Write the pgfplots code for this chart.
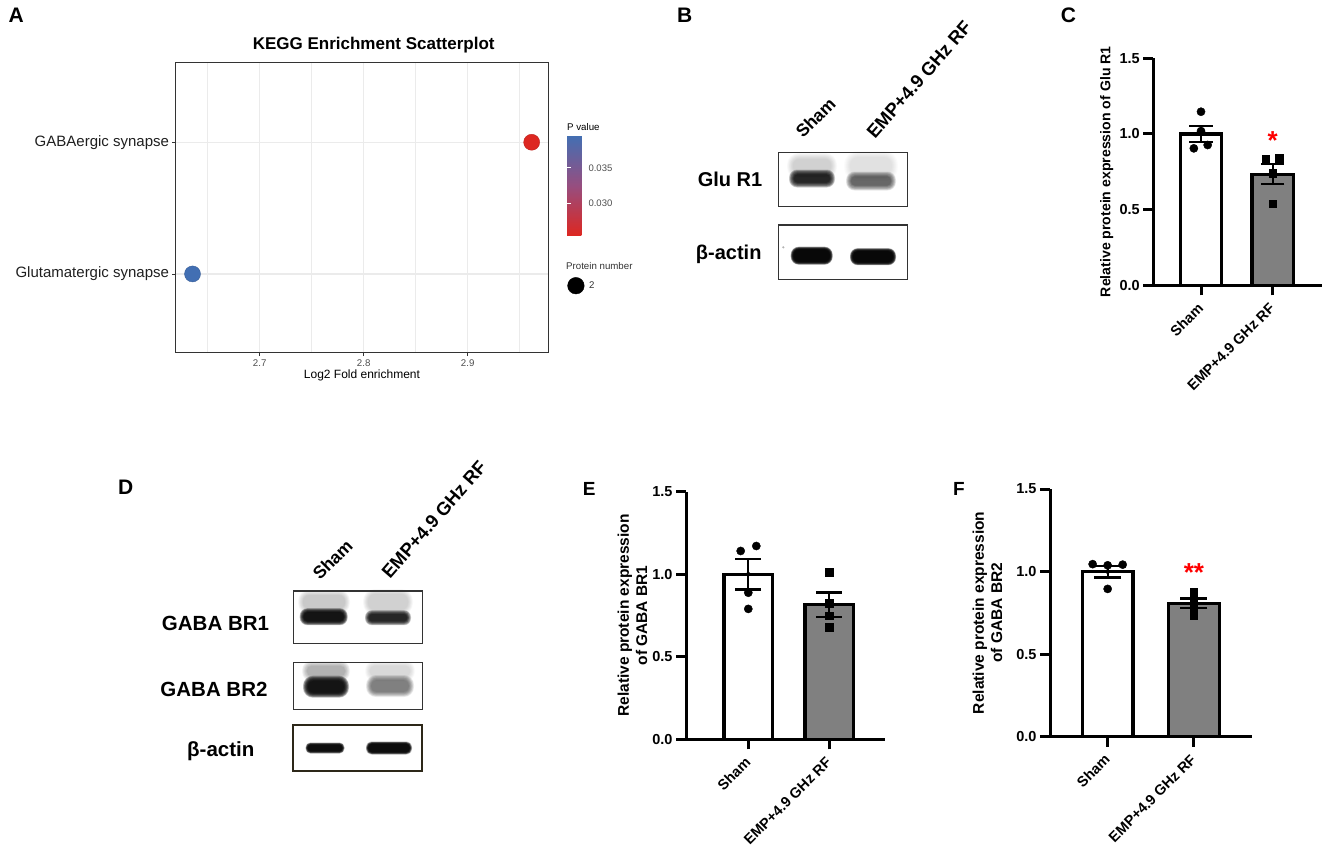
\documentclass[border=0pt]{standalone}
\usepackage{fontspec}
\setmainfont{Liberation Sans}
\usepackage{pgfplots}
\pgfplotsset{compat=1.18}
\definecolor{gthirty}{RGB}{77,77,77}
\definecolor{gtwenty}{RGB}{51,51,51}
\definecolor{gridc}{RGB}{235,235,235}
\definecolor{barg}{RGB}{128,128,128}
\definecolor{blotframe}{RGB}{45,40,25}
\definecolor{sigred}{RGB}{255,0,0}
\newcommand{\fs}[1]{\fontsize{#1}{#1}\selectfont}
\newcommand{\band}[6]{%
  \pgfmathsetmacro{\al}{1-(1-#5)^(0.1)}%
  \foreach \k in {0,...,9}{%
    \pgfmathsetmacro{\W}{#3/2+#6*(1-\k/9)}%
    \pgfmathsetmacro{\H}{#4/2+#6*(1-\k/9)}%
    \pgfmathsetmacro{\R}{0.9*\H}%
    \fill[black, opacity=\al, rounded corners=\R pt] ({#1-\W},{#2-\H}) rectangle ({#1+\W},{#2+\H});
  }}
\pgfplotsset{
  gp/.style={
    scale only axis,
    axis x line=bottom, axis y line=left,
    axis line style={line width=3pt, -, black},
    tick align=outside, major tick length=10pt,
    tick style={line width=3pt, black},
    ymin=0, ymax=1.5, ytick={0,0.5,1,1.5},
    xtick={0,1}, xticklabels={Sham, EMP+4.9 GHz RF},
    ticklabel style={font=\fs{14.5}\bfseries},
    /pgf/number format/assume math mode=true,
    yticklabel style={/pgf/number format/.cd, fixed, fixed zerofill, precision=1},
    xticklabel style={yshift=-8pt, xshift=2pt, rotate=45, anchor=east},
    clip=false,
  }}
\begin{document}
\begin{tikzpicture}
\useasboundingbox (0,0) rectangle (1325pt,-856pt);

% ---------------- Panel A ----------------
\begin{axis}[
  at={(176pt,-352.7pt)}, anchor=south west, scale only axis,
  width=372pt, height=290pt,
  xmin=2.6195, xmax=2.9772, ymin=0.402, ymax=2.604,
  xtick={2.7,2.8,2.9}, minor xtick={2.65,2.75,2.85,2.95},
  ytick={1,2}, yticklabels={Glutamatergic synapse, GABAergic synapse},
  /pgf/number format/assume math mode=true,
  xticklabel style={font=\fs{9.7}, text=gthirty, /pgf/number format/.cd, fixed, precision=1},
  yticklabel style={font=\fs{15}, text=black!88},
  grid=both, major grid style={gridc, line width=1.2pt}, minor grid style={gridc, line width=0.7pt},
  axis line style={gtwenty, line width=1pt},
  tick align=outside, tick pos=left, major tick length=3.5pt, minor tick length=0pt,
  tick style={gtwenty, line width=0.8pt},
  xlabel={Log2 Fold enrichment},
  xlabel style={font=\fs{12}, at={(axis description cs:0.5,-0.077)}, anchor=center},
  colorbar,
  colormap={pv}{rgb255=(221,39,33) rgb255=(150,78,128) rgb255=(66,111,179)},
  point meta min=0.02547, point meta max=0.0396,
  colorbar style={
    at={(parent axis.north east)}, anchor=north west,
    xshift=10.5pt, yshift=-72.6pt,
    scale only axis, width=18pt, height=100pt,
    axis line style={draw=none},
    ytick={0.030,0.035}, scaled y ticks=false,
    /pgf/number format/assume math mode=true,
    yticklabel style={font=\fs{9.5}, text=gthirty, /pgf/number format/.cd, fixed, fixed zerofill, precision=3},
    tick align=inside, major tick length=3.5pt, ytick style={white, line width=0.8pt},
    ytick pos=both, yticklabel pos=right,
    title={P value}, title style={font=\fs{9.7}, at={(0,1)}, anchor=south west, inner sep=0pt, yshift=-1pt},
  },
  legend style={at={(1.0522,0.231)}, anchor=west, draw=none, fill=none, inner sep=0pt,
    font=\fs{9.7}, text=gtwenty, column sep=3pt},
]
\addplot[scatter, only marks, mark=*, mark size=8pt, point meta=explicit,
  scatter/use mapped color={draw=mapped color!85!black, fill=mapped color}, forget plot]
  coordinates {(2.9615,2) [0.02547] (2.6354,1) [0.0396]};
\addlegendimage{only marks, mark=*, mark size=8.3pt, black}
\addlegendentry{2}
\end{axis}

% ---------------- Panel C ----------------
\begin{axis}[gp, at={(1153.3pt,-285.3pt)}, anchor=south west, width=168.4pt, height=227pt,
  xmin=-0.665, xmax=1.683,
  ylabel={Relative protein expression of Glu R1},
  ylabel style={at={(axis description cs:-0.277,0.5)}, anchor=center, font=\fs{14.1}\bfseries}]
\addplot[ybar, bar width=0.58, bar shift=0pt, fill=white, draw=black, line width=3.3pt] coordinates {(0,1.0)};
\addplot[ybar, bar width=0.58, bar shift=0pt, fill=barg, draw=black, line width=3.3pt] coordinates {(1,0.734)};
\addplot[black, only marks, mark=none, error bars/.cd, y dir=both, y explicit,
  error bar style={line width=2.2pt, black},
  error mark options={rotate=90, mark size=11.7pt, line width=2.2pt, black}]
  coordinates {(0,1.0) +- (0,0.052) (1,0.734) +- (0,0.067)};
\addplot[only marks, mark=*, mark size=4.1pt, black] coordinates {(0,1.147) (0,1.019) (-0.1,0.905) (0.093,0.927)};
\addplot[only marks, mark=square*, mark size=3.7pt, black] coordinates {(0.902,0.832) (1.09,0.839) (1,0.74) (1,0.539)};
\node[text=sigred, font=\fs{26}\bfseries, yshift=-4pt] at (axis cs:1,0.98) {*};
\end{axis}

% ---------------- Panel E ----------------
\begin{axis}[gp, at={(686pt,-739.3pt)}, anchor=south west, width=199pt, height=247.6pt,
  xmin=-0.77, xmax=1.69,
  ylabel={Relative protein expression\\of GABA BR1},
  ylabel style={at={(axis description cs:-0.269,0.5)}, anchor=center, align=center, font=\fontsize{15.5}{18.4}\selectfont\bfseries}]
\addplot[ybar, bar width=0.60, bar shift=0pt, fill=white, draw=black, line width=3.3pt] coordinates {(0,1.0)};
\addplot[ybar, bar width=0.60, bar shift=0pt, fill=barg, draw=black, line width=3.3pt] coordinates {(1,0.816)};
\addplot[black, only marks, mark=none, error bars/.cd, y dir=both, y explicit,
  error bar style={line width=2.2pt, black},
  error mark options={rotate=90, mark size=12.8pt, line width=2.2pt, black}]
  coordinates {(0,1.0) +- (0,0.092) (1,0.816) +- (0,0.073)};
\addplot[only marks, mark=*, mark size=4.1pt, black] coordinates {(-0.094,1.141) (0.099,1.171) (0,0.888) (0,0.79)};
\addplot[only marks, mark=square*, mark size=3.7pt, black] coordinates {(1,1.012) (1,0.824) (1,0.749) (1,0.679)};
\end{axis}

% ---------------- Panel F ----------------
\begin{axis}[gp, at={(1050pt,-736.7pt)}, anchor=south west, width=201.7pt, height=247.7pt,
  xmin=-0.668, xmax=1.669,
  ylabel={Relative protein expression\\of GABA BR2},
  ylabel style={at={(axis description cs:-0.31,0.5)}, anchor=center, align=center, font=\fontsize{15.5}{18.4}\selectfont\bfseries}]
\addplot[ybar, bar width=0.587, bar shift=0pt, fill=white, draw=black, line width=3.3pt] coordinates {(0,1.0)};
\addplot[ybar, bar width=0.587, bar shift=0pt, fill=barg, draw=black, line width=3.3pt] coordinates {(1,0.807)};
\addplot[black, only marks, mark=none, error bars/.cd, y dir=both, y explicit,
  error bar style={line width=2.2pt, black},
  error mark options={rotate=90, mark size=13.5pt, line width=2.2pt, black}]
  coordinates {(0,1.0) +- (0,0.036) (1,0.807) +- (0,0.03)};
\addplot[only marks, mark=*, mark size=4.1pt, black] coordinates {(-0.174,1.045) (0,1.038) (0.174,1.042) (0,0.895)};
\addplot[only marks, mark=square*, mark size=3.7pt, black] coordinates {(1,0.875) (1,0.818) (1,0.79) (1,0.736)};
\node[text=sigred, font=\fs{26}\bfseries, yshift=-4pt] at (axis cs:1,1.02) {**};
\end{axis}

% ---------------- Text, labels and blots ----------------
\begin{scope}[x=1pt,y=-1pt]
  % panel letters
  \node[anchor=base west, inner sep=0pt, font=\fs{21}\bfseries] at (8.5,23) {A};
  \node[anchor=base west, inner sep=0pt, font=\fs{21}\bfseries] at (677,23) {B};
  \node[anchor=base west, inner sep=0pt, font=\fs{21}\bfseries] at (1060.7,23) {C};
  \node[anchor=base west, inner sep=0pt, font=\fs{21}\bfseries] at (118,494) {D};
  \node[anchor=base west, inner sep=0pt, font=\fs{19}\bfseries] at (582.7,495) {E};
  \node[anchor=base west, inner sep=0pt, font=\fs{19}\bfseries] at (953,495) {F};
  % panel A title and legend title
  \node[font=\fs{17}\bfseries] at (373.7,45) {KEGG Enrichment Scatterplot};
  \node[anchor=west, inner sep=0pt, font=\fs{9.7}, text=gtwenty] at (566,265.7) {Protein number};

  % ---- panel B blot ----
  \node[anchor=base, inner sep=0pt, font=\fs{20}\bfseries] at (730,186.7) {Glu R1};
  \node[anchor=base, inner sep=0pt, font=\fs{20}\bfseries] at (728.7,259.3) {β-actin};
  \node[anchor=base west, inner sep=0pt, rotate=45, font=\fs{17.5}\bfseries] at (803,139) {Sham};
  \node[anchor=base west, inner sep=0pt, rotate=49, font=\fs{18.5}\bfseries] at (875,140) {EMP+4.9 GHz RF};
  \band{812}{166}{38}{14}{0.18}{6}
  \band{812}{178.5}{36}{8}{0.85}{5}
  \band{871}{166}{42}{18}{0.12}{6}
  \band{871}{181}{40}{9}{0.6}{5}
  \band{811.7}{255.7}{36}{12}{0.97}{3}
  \band{873}{256.7}{40}{11}{0.97}{3}
  \fill[gray!60] (783.3,247.3) circle (1.2);
  \draw[line width=1.5pt, gtwenty] (778.3,152.7) rectangle (907.7,206.7);
  \draw[line width=1.5pt, gtwenty] (778.3,225) rectangle (907.7,279.3);

  % ---- panel D blot ----
  \node[anchor=base, inner sep=0pt, font=\fs{20.5}\bfseries] at (215.5,630.7) {GABA BR1};
  \node[anchor=base, inner sep=0pt, font=\fs{20.5}\bfseries] at (214,696.7) {GABA BR2};
  \node[anchor=base, inner sep=0pt, font=\fs{20.5}\bfseries] at (220.8,756) {β-actin};
  \node[anchor=base west, inner sep=0pt, rotate=45, font=\fs{17.5}\bfseries] at (320,581) {Sham};
  \node[anchor=base west, inner sep=0pt, rotate=49, font=\fs{18.5}\bfseries] at (390,580) {EMP+4.9 GHz RF};
  \band{324}{602}{42}{14}{0.2}{5}
  \band{323.7}{616.7}{40}{9}{0.92}{4}
  \band{388}{602}{40}{16}{0.17}{5}
  \band{388}{617.7}{38}{7}{0.85}{4}
  \band{326}{671}{38}{10}{0.3}{5}
  \band{326}{686.7}{36}{12}{0.92}{5}
  \band{390}{671}{40}{10}{0.15}{5}
  \band{390}{686}{38}{12}{0.5}{5}
  \band{325}{748}{34}{6}{0.95}{2.5}
  \band{389}{748}{41}{8}{0.95}{2.5}
  \draw[line width=1.5pt, gtwenty] (293.3,591) rectangle (422.3,643.3);
  \draw[line width=1.5pt, gtwenty] (293.3,662.3) rectangle (422.3,709.3);
  \draw[line width=2pt, blotframe] (293.3,725) rectangle (422.3,770.7);
\end{scope}
\end{tikzpicture}
\end{document}
